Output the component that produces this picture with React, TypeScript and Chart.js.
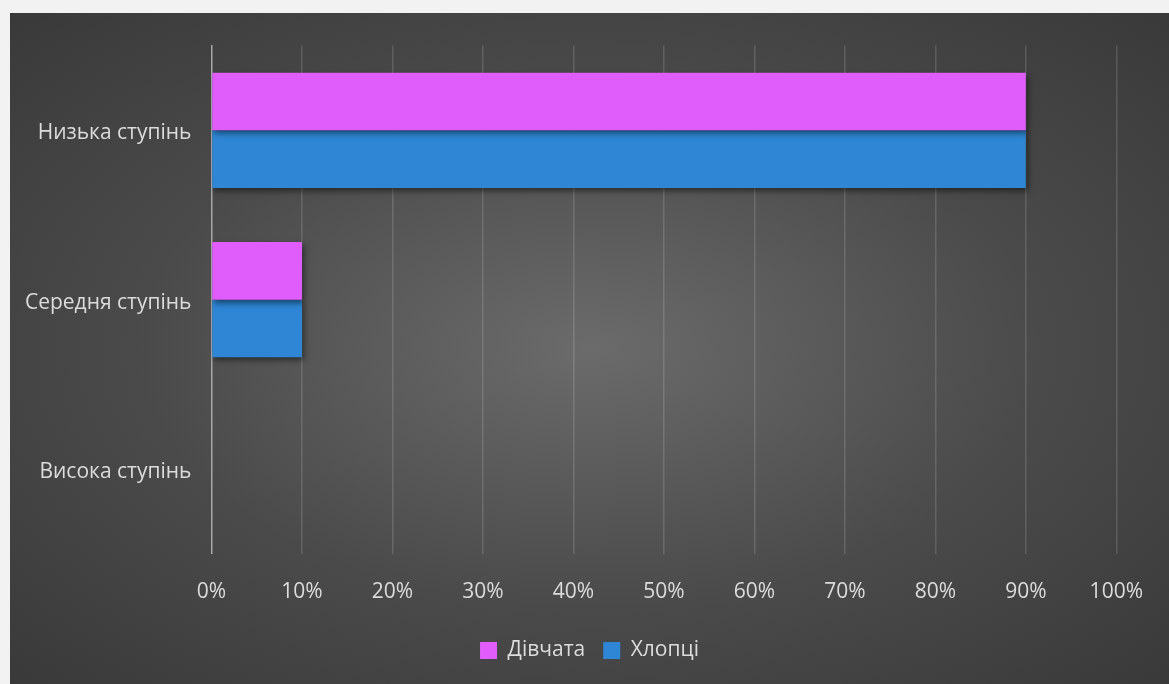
import React, { useEffect, useRef } from "react";
import { Chart, registerables } from "chart.js";

Chart.register(...registerables);

const categories = ["Низька ступінь", "Середня ступінь", "Висока ступінь"];
const girls = [90, 10, 0];
const boys = [90, 10, 0];
const seriesNames = ["Дівчата", "Хлопці"];
const xTicks = [0, 10, 20, 30, 40, 50, 60, 70, 80, 90, 100];

const PINK = "#E05CFB";
const BLUE = "#2E86D4";
const TEXT = "#DCDCDC";
const FONT = "'Open Sans', 'Noto Sans', sans-serif";

const barShadow = {
  id: "barShadow",
  beforeDatasetsDraw(chart: any) {
    const ctx = chart.ctx;
    ctx.save();
    ctx.shadowColor = "rgba(0,0,0,0.5)";
    ctx.shadowBlur = 6;
    ctx.shadowOffsetX = 2;
    ctx.shadowOffsetY = 3;
  },
  afterDatasetsDraw(chart: any) {
    chart.ctx.restore();
  },
};

export default function App() {
  const ref = useRef<HTMLCanvasElement>(null);

  useEffect(() => {
    document.body.style.margin = "0";
    const chart = new Chart(ref.current!, {
      type: "bar",
      data: {
        labels: categories,
        datasets: [
          { label: seriesNames[0], data: girls, backgroundColor: PINK, borderWidth: 0 },
          { label: seriesNames[1], data: boys, backgroundColor: BLUE, borderWidth: 0 },
        ],
      },
      plugins: [barShadow],
      options: {
        indexAxis: "y",
        responsive: false,
        animation: false,
        maintainAspectRatio: false,
        layout: { padding: { top: 26, right: 0, left: 0, bottom: 13 } },
        datasets: {
          bar: { categoryPercentage: 0.68, barPercentage: 1.0 },
        },
        plugins: {
          tooltip: { enabled: false },
          legend: {
            position: "bottom",
            labels: {
              color: TEXT,
              font: { family: FONT, size: 21, weight: "500" },
              boxWidth: 17,
              boxHeight: 17,
              padding: 18,
            },
          },
        },
        scales: {
          x: {
            min: 0,
            max: 100,
            afterBuildTicks: (s: any) => {
              s.ticks = xTicks.map((v) => ({ value: v }));
            },
            afterFit: (s: any) => {
              s.height = s.height - 9;
            },
            ticks: {
              color: TEXT,
              font: { family: FONT, size: 21, weight: "500" },
              padding: 26,
              callback: (v: any) => v + "%",
            },
            grid: {
              drawTicks: false,
              color: (c: any) => (c.index === 0 ? "rgba(0,0,0,0)" : "rgba(255,255,255,0.14)"),
              lineWidth: 1.5,
            },
            border: { display: false },
          },
          y: {
            afterFit: (s: any) => {
              s.width = 201.5;
            },
            ticks: {
              color: TEXT,
              font: { family: FONT, size: 21, weight: "500" },
              padding: 20,
              labelOffset: 3,
            },
            grid: { display: false, drawTicks: false },
            border: { display: true, color: "#A8A8A8", width: 1.5 },
          },
          rightSpace: {
            type: "linear",
            position: "right",
            display: true,
            afterFit: (s: any) => {
              s.width = 52;
            },
            ticks: { display: false },
            grid: { display: false, drawTicks: false },
            border: { display: false },
          },
        },
      },
    });
    return () => chart.destroy();
  }, []);

  return (
    <div
      style={{
        position: "absolute",
        left: 0,
        top: 0,
        width: 1169,
        height: 684,
        background: "#F2F2F2",
        overflow: "hidden",
      }}
    >
      <div
        style={{
          position: "absolute",
          left: 10,
          top: 13,
          width: 1159,
          height: 671,
          background:
            "radial-gradient(ellipse farthest-corner at 50% 50%, #6B6B6B 0%, #4A4A4A 55%, #393939 100%)",
        }}
      >
        <canvas ref={ref} width={1159} height={671} style={{ display: "block" }} />
      </div>
    </div>
  );
}
